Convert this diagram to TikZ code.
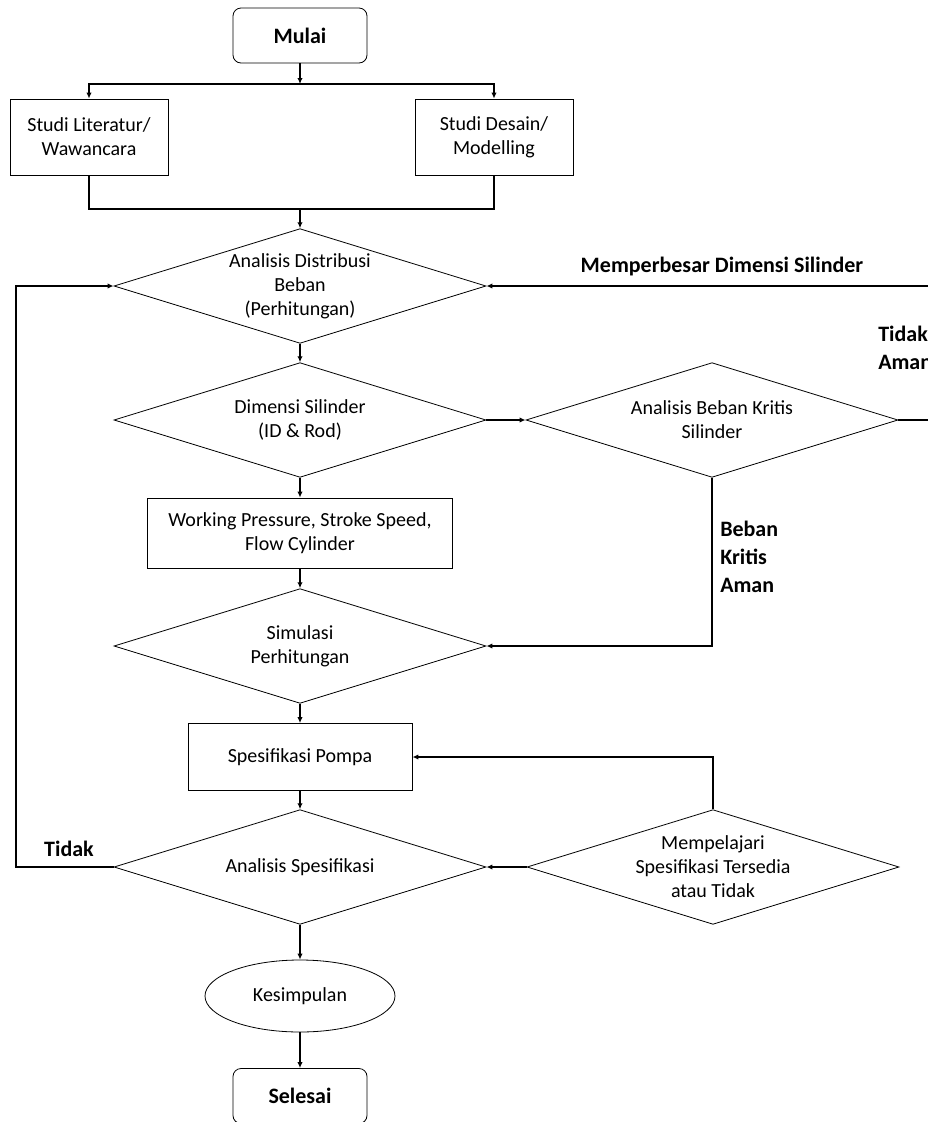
\documentclass[tikz,border=0pt]{standalone}
\usepackage{fontspec}
\setmainfont{Carlito}
\usetikzlibrary{shapes.geometric}
\usetikzlibrary{arrows.meta, positioning}
\tikzset{
    shapebase/.style={draw, line width=0.6pt, align=center, inner sep=0pt, font=\fontsize{15}{18}\selectfont},
    terminal/.style={shapebase, rounded corners=6pt, minimum width=100.5pt, minimum height=41.25pt, font=\fontsize{16.5}{20}\selectfont\bfseries},
    process/.style={shapebase, rectangle},
    decision/.style={shapebase, diamond, shape aspect=3.25, minimum width=279pt, minimum height=86pt},
    arrow/.style={line width=0.9pt, -{Latex[length=4.5pt,width=4pt]}},
    conn/.style={line width=0.9pt},
    boldtext/.style={font=\fontsize{16.5}{21}\selectfont\bfseries, align=left, inner sep=0pt}
}

\begin{document}
\begin{tikzpicture}[x=0.75pt, y=-0.75pt]
    \useasboundingbox (0,0) rectangle (928,1122);

    % Nodes of the flow
    \node[terminal] (mulai) at (300,35.5) {Mulai};
    \node[process, minimum width=118.5pt, minimum height=57pt] (literatur) at (89,137) {Studi Literatur/\\Wawancara};
    \node[process, minimum width=118.5pt, minimum height=57pt] (desain) at (494,137) {Studi Desain/\\Modelling};
    \node[decision] (distribusi) at (300,286) {Analisis Distribusi\\Beban\\(Perhitungan)};
    \node[decision] (dimensi) at (300,420) {Dimensi Silinder\\(ID \& Rod)};
    \node[decision] (kritis) at (712,420) {Analisis Beban Kritis\\Silinder};
    \node[process, minimum width=228.75pt, minimum height=52.5pt] (working) at (300,533) {Working Pressure, Stroke Speed,\\Flow Cylinder};
    \node[decision] (simulasi) at (300,646) {Simulasi\\Perhitungan};
    \node[process, minimum width=168pt, minimum height=50.25pt] (pompa) at (300,757) {Spesifikasi Pompa};
    \node[decision] (spesifikasi) at (300,867) {Analisis Spesifikasi};
    \node[decision] (pelajari) at (713,867) {Mempelajari\\Spesifikasi Tersedia\\atau Tidak};
    \node[shapebase, ellipse, minimum width=142.5pt, minimum height=54pt] (kesimpulan) at (300,996) {Kesimpulan};
    \node[terminal] (selesai) at (300,1096) {Selesai};

    % Helper points for the branches
    \coordinate (split) at (300,84);
    \coordinate (join) at (300,209);
    \coordinate (kanan) at (945,0);
    \coordinate (kiri) at (16,0);

    % Start and the two studies
    \draw[arrow] (mulai) -- (split);
    \draw[arrow] (split) -| (literatur);
    \draw[arrow] (split) -| (desain);
    \draw[conn] (literatur) |- (join);
    \draw[conn] (desain) |- (join);
    \draw[arrow] (join) -- (distribusi);

    % Main line
    \draw[arrow] (distribusi) -- (dimensi);
    \draw[arrow] (dimensi) -- (kritis);
    \draw[arrow] (dimensi) -- (working);
    \draw[arrow] (working) -- (simulasi);
    \draw[arrow] (simulasi) -- (pompa);
    \draw[arrow] (pompa) -- (spesifikasi);
    \draw[arrow] (spesifikasi) -- (kesimpulan);
    \draw[arrow] (kesimpulan) -- (selesai);

    % Loops back
    \draw[arrow] (kritis.east) -| (kanan |- distribusi.east) -- (distribusi.east);
    \draw[arrow] (kritis.south) |- (simulasi.east);
    \draw[arrow] (pelajari.north) |- (pompa.east);
    \draw[arrow] (pelajari.west) -- (spesifikasi.east);
    \draw[arrow] (spesifikasi.west) -| (kiri |- distribusi.west) -- (distribusi.west);

    % Branch labels
    \node[boldtext] (perbesar) at (722,267) {Memperbesar Dimensi Silinder};
    \node[boldtext, anchor=north west] (tidakaman) at (878,326) {Tidak\\Aman};
    \node[boldtext, anchor=north west] (amanlabel) at (720,521) {Beban\\Kritis\\Aman};
    \node[boldtext] (tidak) at (69,849) {Tidak};
\end{tikzpicture}
\end{document}
